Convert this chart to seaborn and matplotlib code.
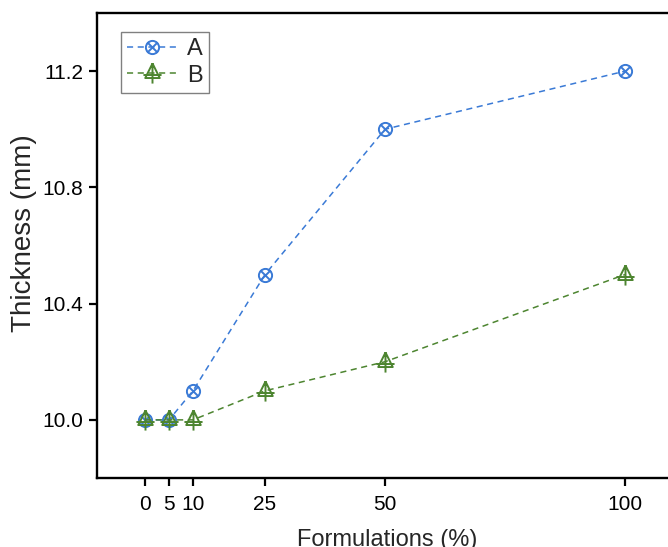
import numpy as np
import pandas as pd
import matplotlib
matplotlib.use("Agg")
import matplotlib.pyplot as plt
import seaborn as sns
from matplotlib.path import Path

formulations = [0, 5, 10, 25, 50, 100]
thickness_a = [10.0, 10.0, 10.1, 10.5, 11.0, 11.2]
thickness_b = [10.0, 10.0, 10.0, 10.1, 10.2, 10.5]
series_names = ["A", "B"]
xticks = [0, 5, 10, 25, 50, 100]
yticks = [10.0, 10.4, 10.8, 11.2]

df = pd.DataFrame({
    "x": formulations * 2,
    "y": thickness_a + thickness_b,
    "s": [series_names[0]] * len(formulations) + [series_names[1]] * len(formulations),
})

sns.set_style("ticks")
plt.rcParams["font.family"] = ["Liberation Sans", "DejaVu Sans"]

# custom markers
circ = Path.unit_circle()
d = np.sqrt(0.5)
xcross = Path([(-d, -d), (d, d), (-d, d), (d, -d)],
              [Path.MOVETO, Path.LINETO, Path.MOVETO, Path.LINETO])
m_a = Path.make_compound_path(circ, xcross)
tri = Path([(0, 1), (-0.72, -0.45), (0.72, -0.45), (0, 1)],
           [Path.MOVETO, Path.LINETO, Path.LINETO, Path.LINETO])
plus = Path([(0, 1), (0, -1.0), (-0.9, -0.15), (0.9, -0.15)],
            [Path.MOVETO, Path.LINETO, Path.MOVETO, Path.LINETO])
m_b = Path.make_compound_path(tri, plus)

colors = {"A": "#3a7ad6", "B": "#4d8530"}
markers = {"A": m_a, "B": m_b}
msize = {"A": 9.5, "B": 14.5}

fig = plt.figure(figsize=(6.68, 5.47), dpi=100)
ax = fig.add_axes([97 / 668, (547 - 478) / 547, (673 - 97) / 668, (478 - 13) / 547])

for name in series_names:
    sub = df[df["s"] == name]
    sns.lineplot(data=sub, x="x", y="y", ax=ax, color=colors[name],
                 linestyle=(0, (4, 3)), linewidth=1.1, marker=markers[name],
                 markersize=msize[name], markerfacecolor="none", markeredgecolor=colors[name],
                 markeredgewidth=1.4, label=name)

ax.set_xlim(-10, 110)
ax.set_ylim(9.8, 11.4)
ax.set_xticks(xticks)
ax.set_xticklabels([str(v) for v in xticks])
ax.set_yticks(yticks)
ax.set_yticklabels([f"{v:.1f}" for v in yticks])
ax.tick_params(axis="both", direction="out", length=6, width=1.6, labelsize=15, colors="black")
ax.tick_params(axis="x", pad=6)
ax.tick_params(axis="y", pad=4)
for side in ["left", "bottom", "top", "right"]:
    ax.spines[side].set_visible(True)
    ax.spines[side].set_linewidth(1.7)
    ax.spines[side].set_color("black")
ax.set_xlabel("Formulations (%)", fontsize=17, va="center")
ax.set_ylabel("Thickness (mm)", fontsize=20, va="center")
ax.xaxis.set_label_coords((387 - 97) / 576, (478 - 540) / 465)
ax.yaxis.set_label_coords((24 - 97) / 576, (478 - 233) / 465)

leg = ax.legend(loc="upper left", bbox_to_anchor=(24 / 576, 1 - 19 / 465), fontsize=17,
                frameon=True, fancybox=False, edgecolor="#808080", framealpha=1,
                handlelength=2.15, handletextpad=0.4, borderpad=0.25, labelspacing=0.2,
                borderaxespad=0)
leg.get_frame().set_linewidth(1.0)

fig.savefig("out.png", dpi=100)
